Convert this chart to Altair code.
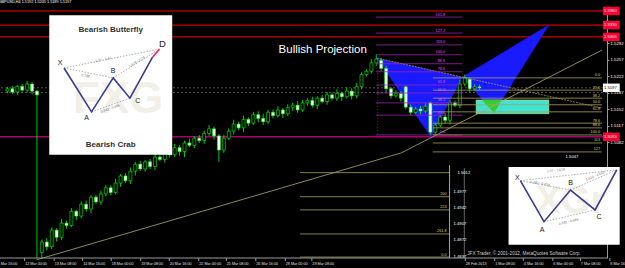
import altair as alt
import pandas as pd

FONT = "Liberation Sans"
TITLE = "GBPUSD,H4  1.5192 1.5205 1.5189 1.5197"

# ---------------- candles (H4) ----------------
opens = [1.5190, 1.5195, 1.5188, 1.5200, 1.5192, 1.5205, 1.5190,
         1.4848, 1.4870, 1.4860, 1.4895, 1.4880, 1.4910, 1.4905, 1.4935, 1.4925, 1.4950, 1.4940, 1.4965, 1.4955, 1.4972,
         1.4985, 1.4975, 1.4995, 1.5010, 1.5000, 1.5020, 1.5035, 1.5025, 1.5040, 1.5030, 1.5050, 1.5045, 1.5060, 1.5055,
         1.5070, 1.5062, 1.5080, 1.5075, 1.5090, 1.5085,
         1.5100, 1.5110, 1.5095, 1.5065, 1.5090, 1.5105, 1.5120, 1.5112, 1.5130, 1.5122, 1.5140, 1.5132, 1.5125, 1.5145,
         1.5138, 1.5150, 1.5142, 1.5155, 1.5160, 1.5150,
         1.5165, 1.5170, 1.5160, 1.5175, 1.5168, 1.5182, 1.5175, 1.5185, 1.5178,
         1.5190, 1.5180, 1.5200, 1.5225, 1.5232, 1.5250,
         1.5255, 1.5238, 1.5195, 1.5180, 1.5185, 1.5199, 1.5156, 1.5145, 1.5152, 1.5148, 1.5165, 1.5103, 1.5118, 1.5135,
         1.5128, 1.5165, 1.5160, 1.5205, 1.5215, 1.5195, 1.5199]
closes = [1.5195, 1.5188, 1.5200, 1.5192, 1.5205, 1.5190, 1.5182,
          1.4870, 1.4860, 1.4895, 1.4880, 1.4910, 1.4905, 1.4935, 1.4925, 1.4950, 1.4940, 1.4965, 1.4955, 1.4972, 1.4985,
          1.4975, 1.4995, 1.5010, 1.5000, 1.5020, 1.5035, 1.5025, 1.5040, 1.5030, 1.5050, 1.5045, 1.5060, 1.5055, 1.5070,
          1.5062, 1.5080, 1.5075, 1.5090, 1.5085, 1.5100,
          1.5110, 1.5095, 1.5065, 1.5090, 1.5105, 1.5120, 1.5112, 1.5130, 1.5122, 1.5140, 1.5132, 1.5125, 1.5145, 1.5138,
          1.5150, 1.5142, 1.5155, 1.5160, 1.5150, 1.5165,
          1.5170, 1.5160, 1.5175, 1.5168, 1.5182, 1.5175, 1.5185, 1.5178, 1.5190,
          1.5180, 1.5200, 1.5225, 1.5232, 1.5250, 1.5258,
          1.5238, 1.5195, 1.5180, 1.5185, 1.5175, 1.5156, 1.5145, 1.5152, 1.5148, 1.5158, 1.5103, 1.5118, 1.5135, 1.5128,
          1.5165, 1.5160, 1.5205, 1.5218, 1.5195, 1.5199, 1.5197]
upper_wick_pips = [4, 6, 3, 5, 7, 4, 2,
                   5, 8, 6, 4, 9, 5, 7, 3, 6, 8, 4, 5, 7, 6,
                   5, 9, 4, 6, 8, 5, 7, 4, 6, 10, 5, 7, 4, 8, 6, 5, 9, 4, 7, 6,
                   8, 5, 4, 7, 6, 9, 5, 8, 4, 6, 7, 10, 5, 6, 8, 4, 7, 5, 9, 6,
                   5, 8, 4, 7, 6, 5, 9, 4, 8,
                   6, 7, 5, 4, 8, 10,
                   5, 6, 4, 7, 5, 4, 6, 5, 7, 6, 3, 5, 4, 8, 6, 5, 9, 7, 4, 6, 5]
lower_wick_pips = [5, 4, 6, 3, 5, 7, 346,
                   12, 8, 5, 9, 6, 7, 4, 8, 5, 6, 9, 4, 7, 5,
                   6, 4, 8, 5, 7, 9, 4, 6, 5, 8, 4, 7, 6, 5, 9, 12, 4, 6, 5, 7,
                   5, 8, 25, 6, 4, 7, 5, 9, 6, 4, 8, 7, 5, 6, 4, 9, 5, 7, 6, 4,
                   6, 5, 8, 4, 7, 5, 6, 9, 4,
                   8, 5, 6, 4, 5, 7,
                   5, 8, 6, 4, 7, 5, 6, 4, 7, 5, 6, 6, 5, 7, 9, 4, 6, 5, 7, 4, 5]

# ---------------- levels ----------------
red_levels = [1.5360, 1.5330, 1.5305]
pink_level = [1.5093]
current_levels = [1.5197, 1.5187]
price_ticks = [1.5292, 1.5257, 1.5222, 1.5187, 1.5152, 1.5117, 1.5082]
box_levels = [1.5360, 1.5330, 1.5305, 1.5093]
box_texts = ["1.5360", "1.5330", "1.5305", "1.5093"]
current_price = [1.5197]
current_text = ["1.5197"]

purple_levels = [1.5347, 1.5313, 1.5288, 1.5267, 1.5248, 1.5231, 1.5203, 1.5186, 1.5165, 1.5139, 1.5097]
purple_labels = ["161.8", "127.2", "113.0", "100.0", "88.6", "78.6", "61.8", "50.0", "38.2", "23.6", "0.0"]
khaki_levels = [1.5218, 1.5192, 1.5175, 1.5161, 1.5146, 1.5122, 1.5112, 1.5097, 1.5080, 1.5061]
khaki_labels = ["0.0", "23.6", "38.2", "50.0", "61.8", "78.6", "88.6", "100.0", "113", "127"]
lower_levels = [1.5017, 1.4966, 1.4938, 1.4887, 1.4838]
lower_labels = ["", "200", "224", "261.8", "0.0"]
lower_ticks = [1.4976, 1.4942, 1.4909, 1.4874, 1.4838]
lower_tick_texts = ["1.4977", "1.4942", "1.4907", "1.4872", "1.4837"]

# trend lines (bar index, price)
trend_seg = ["a", "a", "b", "b"]
trend_x = [6.4, 80.6, 80.6, 121.4]
trend_y = [1.4832, 1.5059, 1.5059, 1.5277]
top_line_x = [75.6, 121.4]
top_line_y = [1.5260, 1.5154]

# harmonic projection
tri_shape = ["t1", "t1", "t1", "t2", "t2", "t2"]
tri_order = [0, 1, 2, 0, 1, 2]
tri_x = [75.6, 86.6, 93.0, 93.0, 110.6, 99.4]
tri_y = [1.5260, 1.5093, 1.5220, 1.5220, 1.5330, 1.5144]
green_x = [97.0, 101.0, 99.4]
green_y = [1.5171, 1.5171, 1.5144]
zone_x = [95.8, 110.6]
zone_y = [1.5171, 1.5142]

# dates
date_labels = ["8 Mar 16:00", "12 Mar 00:00", "13 Mar 08:00", "14 Mar 16:00", "18 Mar 00:00", "19 Mar 08:00",
               "20 Mar 16:00", "22 Mar 00:00", "25 Mar 08:00", "26 Mar 16:00", "28 Mar 00:00", "29 Mar 08:00",
               "28 Feb 2013", "1 Mar 08:00", "4 Mar 16:00", "6 Mar 00:00", "7 Mar 08:00", "8 Mar 16:00"]
date_bars = [-1.6, 4.0, 10.0, 15.8, 21.6, 27.6, 33.4, 39.4, 45.0, 51.0, 57.0, 62.4,
             93.6, 99.6, 105.4, 111.4, 117.0, 123.0]

# inset 1 (Bearish Butterfly)
ins1_x = [9.0, 34.0]
ins1_y = [1.5055, 1.5351]
pat1_x = [12.0, 17.6, 22.0, 25.4, 30.0]
pat1_y = [1.5239, 1.5146, 1.5218, 1.5175, 1.5262]
pat1_red_x = [30.0, 31.4]
pat1_red_y = [1.5262, 1.5279]
dot1 = [(12.0, 1.5239, 31.4, 1.5279), (12.0, 1.5239, 22.0, 1.5218),
        (17.6, 1.5146, 25.4, 1.5175), (22.0, 1.5218, 31.4, 1.5279)]
let1 = [("X", 11.2, 1.5250, 7), ("A", 16.6, 1.5133, 7), ("B", 22.0, 1.5233, 7),
        ("C", 27.0, 1.5170, 7), ("D", 32.0, 1.5290, 9.5)]
rat1 = [("1.27 - 1.41", 20.0, 1.5257, 349), ("0.786", 16.4, 1.5222, 11),
        ("1.618 - 2.24", 26.8, 1.5252, 328), ("0.382 - 0.886", 21.4, 1.5153, 340)]

# inset 2 (Bearish Crab)
ins2_x = [102.4, 125.0]
ins2_y = [1.4864, 1.5029]
pat2_x = [104.8, 109.6, 115.0, 120.0, 124.4]
pat2_y = [1.5000, 1.4913, 1.4980, 1.4938, 1.5023]
dot2 = [(104.8, 1.5000, 115.0, 1.4980), (109.6, 1.4913, 120.0, 1.4938),
        (115.0, 1.4980, 124.4, 1.5023), (104.8, 1.5000, 124.4, 1.5023)]
let2 = [("X", 104.2, 1.5006, 7), ("A", 109.2, 1.4896, 7), ("B", 115.0, 1.4995, 7), ("C", 120.8, 1.4923, 7)]
rat2 = [("0.382 - 0.618", 108.8, 1.4994, 10), ("0.382 - 0.886", 114.6, 1.4913, 347),
        ("1.618 - 2.618", 120.0, 1.5010, 337), ("1.27 - 1.618", 112.0, 1.5022, 354)]

# ---------------- scales ----------------
W, H = 607, 248
X_MAX = 121.4
xs = alt.Scale(domain=[0, X_MAX], nice=False, zero=False)
ys = alt.Scale(domain=[1.4836, 1.5362], nice=False, zero=False)
yaxis = alt.Axis(orient="right", values=price_ticks, format=".4f", labelFontSize=4.3,
                 labelColor="#ffffff", labelFont=FONT, domainColor="#9a9a9a", tickColor="#9a9a9a",
                 tickSize=2, labelPadding=1, grid=False, title=None)


def ex(f="x"):
    return alt.X(f"{f}:Q", scale=xs, axis=None)


def ey(f="y"):
    return alt.Y(f"{f}:Q", scale=ys, axis=yaxis)


def text_layer(df, **kw):
    return alt.Chart(df).mark_text(font=FONT, **kw).encode(x=ex(), y=ey(), text="t:N")


layers = []

# full-width horizontal lines
lv = pd.DataFrame({"y": red_levels + pink_level, "c": ["#ff0000"] * len(red_levels) + ["#ff00a0"]})
layers.append(alt.Chart(lv).mark_rule(strokeWidth=1).encode(y=ey(), color=alt.Color("c:N", scale=None)))
layers.append(alt.Chart(pd.DataFrame({"y": current_levels})).mark_rule(
    color="#8a8a8a", strokeDash=[2, 2], strokeWidth=0.6).encode(y=ey()))

# projection triangles and zone
tri = pd.DataFrame({"s": tri_shape, "k": tri_order, "x": tri_x, "y": tri_y})
layers.append(alt.Chart(tri).mark_line(fill="#1a1aff", stroke="#1a1aff", strokeWidth=0.5).encode(
    x=ex(), y=ey(), detail="s:N", order="k:Q"))
layers.append(alt.Chart(pd.DataFrame({"x": [zone_x[0]], "x2": [zone_x[1]], "y": [zone_y[0]], "y2": [zone_y[1]]}))
              .mark_rect(fill="#3fe3d3", stroke="#d8d860", strokeWidth=0.6)
              .encode(x=ex(), x2="x2:Q", y=ey(), y2="y2:Q"))
gr = pd.DataFrame({"s": ["g"] * 3, "k": [0, 1, 2], "x": green_x, "y": green_y})
layers.append(alt.Chart(gr).mark_line(fill="#33cc33", stroke="#33cc33", strokeWidth=0.5).encode(
    x=ex(), y=ey(), detail="s:N", order="k:Q"))

# candles
rows = []
for i, (o, c, u, lo) in enumerate(zip(opens, closes, upper_wick_pips, lower_wick_pips)):
    rows.append({"x": i + 0.5, "o": o, "c": c,
                 "h": max(o, c) + u * 0.0001, "l": min(o, c) - lo * 0.0001,
                 "f": "#000000" if c > o else "#ffffff"})
cd = pd.DataFrame(rows)
layers.append(alt.Chart(cd).mark_rule(color="#00ff00", strokeWidth=0.8).encode(
    x=ex(), y=ey("l"), y2="h:Q"))
layers.append(alt.Chart(cd).mark_bar(size=3, stroke="#00ff00", strokeWidth=0.6).encode(
    x=ex(), y=ey("o"), y2="c:Q", fill=alt.Fill("f:N", scale=None)))

# trend lines
layers.append(alt.Chart(pd.DataFrame({"s": trend_seg, "x": trend_x, "y": trend_y})).mark_line(
    color="#b0a870", strokeWidth=0.8).encode(x=ex(), y=ey(), detail="s:N"))
layers.append(alt.Chart(pd.DataFrame({"x": top_line_x, "y": top_line_y})).mark_line(
    color="#a09860", strokeWidth=0.8, strokeDash=[2, 1]).encode(x=ex(), y=ey()))

# fibonacci levels
pf = pd.DataFrame({"x": [75.4] * len(purple_levels), "x2": [93.0] * len(purple_levels),
                   "y": purple_levels, "t": purple_labels})
layers.append(alt.Chart(pf).mark_rule(color="#a020b0", strokeWidth=0.8).encode(x=ex(), x2="x2:Q", y=ey()))
layers.append(alt.Chart(pf.assign(x=89.5)).mark_text(font=FONT, fontSize=3.8, color="#ff40ff", align="right",
                                                     baseline="bottom", dy=-0.5).encode(x=ex(), y=ey(), text="t:N"))
kf = pd.DataFrame({"x": [87.0] * len(khaki_levels), "x2": [X_MAX] * len(khaki_levels),
                   "y": khaki_levels, "t": khaki_labels})
layers.append(alt.Chart(kf).mark_rule(color="#a8a060", strokeWidth=0.8).encode(x=ex(), x2="x2:Q", y=ey()))
layers.append(alt.Chart(kf.assign(x=121.0)).mark_text(font=FONT, fontSize=3.8, color="#d8d070", align="right",
                                                      baseline="bottom", dy=-0.5).encode(x=ex(), y=ey(), text="t:N"))
lf = pd.DataFrame({"x": [60.0] * len(lower_levels), "x2": [90.4] * len(lower_levels),
                   "y": lower_levels, "t": lower_labels})
layers.append(alt.Chart(lf).mark_rule(color="#a8a060", strokeWidth=0.8).encode(x=ex(), x2="x2:Q", y=ey()))
layers.append(alt.Chart(lf.assign(x=89.8)).mark_text(font=FONT, fontSize=3.8, color="#d8d070", align="right",
                                                     baseline="bottom", dy=-0.5).encode(x=ex(), y=ey(), text="t:N"))
layers.append(alt.Chart(pd.DataFrame({"x": [75.8], "y": [1.5235], "y2": [1.5093]})).mark_rule(
    color="#cc0099", strokeDash=[1, 2], strokeWidth=0.8).encode(x=ex(), y=ey(), y2="y2:Q"))

# lower embedded price scale
vl = pd.DataFrame({"x": [90.4, 93.4], "y": [1.5033, 1.5027], "y2": [1.4836, 1.4836], "c": ["#d0d0d0", "#808080"]})
layers.append(alt.Chart(vl).mark_rule(strokeWidth=0.8).encode(x=ex(), y=ey(), y2="y2:Q",
                                                              color=alt.Color("c:N", scale=None)))
layers.append(text_layer(pd.DataFrame({"x": [91.2] * len(lower_ticks), "y": lower_ticks, "t": lower_tick_texts}),
                         fontSize=4.2, color="#ffffff", align="left", baseline="middle"))
layers.append(text_layer(pd.DataFrame({"x": [92.0, 114.0], "y": [1.5017, 1.5050], "t": ["1.5012", "1.5047"]}),
                         fontSize=4.2, color="#ffffff", align="left", baseline="middle"))

# Bullish Projection
layers.append(text_layer(pd.DataFrame({"x": [64.6], "y": [1.5277], "t": ["Bullish Projection"]}),
                         fontSize=11.5, color="#ffffff", align="center", baseline="middle"))


def inset(rx, ry, pat_x, pat_y, dots, letters, ratios, wm_x, wm_y, wm_t, wm_size):
    out = []
    out.append(alt.Chart(pd.DataFrame({"x": [rx[0]], "x2": [rx[1]], "y": [ry[0]], "y2": [ry[1]]}))
               .mark_rect(fill="#ffffff").encode(x=ex(), x2="x2:Q", y=ey(), y2="y2:Q"))
    out.append(text_layer(pd.DataFrame({"x": [wm_x], "y": [wm_y], "t": [wm_t]}),
                          fontSize=wm_size, color="#f2efe7", align="center", baseline="middle", fontWeight="bold"))
    dd = pd.DataFrame([{"x": a, "y": b, "x2": c, "y2": d} for a, b, c, d in dots])
    out.append(alt.Chart(dd).mark_rule(color="#9a9a9a", strokeDash=[1.5, 1.5], strokeWidth=0.8).encode(
        x=ex(), y=ey(), x2="x2:Q", y2="y2:Q"))
    pp = pd.DataFrame({"k": list(range(len(pat_x))), "x": pat_x, "y": pat_y})
    out.append(alt.Chart(pp).mark_line(color="#3a3a90", strokeWidth=1.6).encode(x=ex(), y=ey(), order="k:Q"))
    for t, x, y, s in letters:
        out.append(text_layer(pd.DataFrame({"x": [x], "y": [y], "t": [t]}),
                              fontSize=s, color="#202020", align="center", baseline="middle"))
    for t, x, y, a in ratios:
        out.append(text_layer(pd.DataFrame({"x": [x], "y": [y], "t": [t]}),
                              fontSize=3.4, color="#707070", align="center", baseline="middle", angle=a))
    return out


layers += inset(ins1_x, ins1_y, pat1_x, pat1_y, dot1, let1, rat1, 23.0, 1.5171, "FXG", 44)
layers.append(alt.Chart(pd.DataFrame({"x": pat1_red_x, "y": pat1_red_y})).mark_line(
    color="#ff2070", strokeWidth=1.6).encode(x=ex(), y=ey()))
layers.append(text_layer(pd.DataFrame({"x": [21.5, 21.5], "y": [1.5320, 1.5076],
                                       "t": ["Bearish Butterfly", "Bearish Crab"]}),
                         fontSize=8, fontWeight="bold", color="#303030", align="center", baseline="middle"))
layers += inset(ins2_x, ins2_y, pat2_x, pat2_y, dot2, let2, rat2, 115.0, 1.4955, "XGr", 38)

# right-axis price boxes
bx = pd.DataFrame({"x": [121.6] * len(box_levels), "x2": [125.0] * len(box_levels),
                   "y": [v - 0.0009 for v in box_levels], "y2": [v + 0.0009 for v in box_levels]})
layers.append(alt.Chart(bx).mark_rect(fill="#ff0033").encode(x=ex(), x2="x2:Q", y=ey(), y2="y2:Q"))
layers.append(text_layer(pd.DataFrame({"x": [121.8] * len(box_levels), "y": box_levels, "t": box_texts}),
                         fontSize=4.2, color="#ffe8e8", align="left", baseline="middle"))
cb = pd.DataFrame({"x": [121.6], "x2": [125.0], "y": [current_price[0] - 0.0009], "y2": [current_price[0] + 0.0009]})
layers.append(alt.Chart(cb).mark_rect(fill="#ffffff").encode(x=ex(), x2="x2:Q", y=ey(), y2="y2:Q"))
layers.append(text_layer(pd.DataFrame({"x": [121.8], "y": current_price, "t": current_text}),
                         fontSize=4.2, color="#000000", align="left", baseline="middle"))

# bottom time axis
layers.append(alt.Chart(pd.DataFrame({"x": [0.0]})).mark_rule(color="#9a9a9a").encode(y=alt.value(H)))
dl = pd.DataFrame({"x": date_bars, "t": date_labels})
layers.append(alt.Chart(dl).mark_rule(color="#9a9a9a").encode(x=ex(), y=alt.value(H), y2=alt.value(H + 3)))
layers.append(alt.Chart(dl).mark_text(font=FONT, fontSize=3.7, color="#e0e0e0", align="left",
                                      baseline="middle", dx=0.5).encode(x=ex(), y=alt.value(H + 6), text="t:N"))

# copyright
layers.append(text_layer(pd.DataFrame({"x": [94.0], "y": [1.4845],
                                       "t": ["JFX Trader, \u00a9 2001-2012, MetaQuotes Software Corp."]}),
                         fontSize=4.7, color="#d0d0d0", align="left", baseline="middle"))

chart = alt.layer(*layers).properties(
    width=W, height=H,
    title=alt.TitleParams(TITLE, anchor="start", fontSize=3.8, color="#ffffff", font=FONT,
                          fontWeight="normal", offset=3, dx=2),
    padding={"left": 0, "top": 10, "right": 18, "bottom": 10},
    autosize="none",
    background="#000000",
).configure_view(stroke=None)

chart.save("out.html", embed_options={"renderer": "svg", "actions": False})
